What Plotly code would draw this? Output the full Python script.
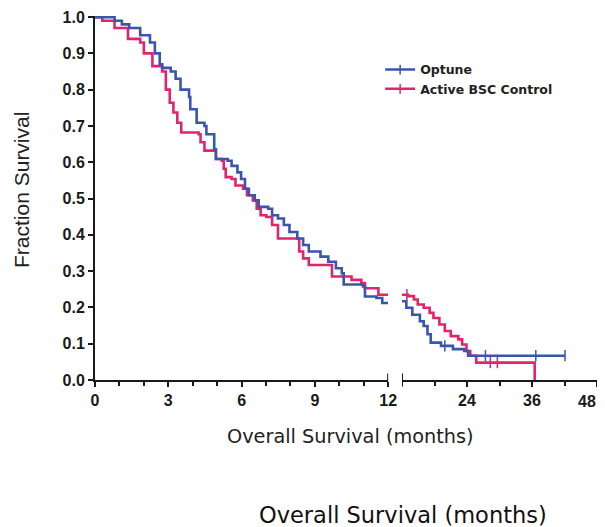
import plotly.graph_objects as go

# ---- data ----
opt_t_a = [0, 0.8, 1.1, 1.4, 1.85, 2.25, 2.45, 2.65, 2.75, 3.1, 3.3, 3.5, 3.85, 3.9, 4.16, 4.48, 4.56, 4.88, 4.95,
           5.43, 5.59, 5.83, 5.98, 6.14, 6.3, 6.54, 6.7, 7.09, 7.25, 7.49, 7.73, 7.96, 8.28, 8.52, 8.75, 9.23, 9.55,
           9.86, 10.1, 10.18, 10.97, 11.05, 11.52, 11.76, 12]
opt_s_a = [1.0, 0.99, 0.98, 0.97, 0.95, 0.93, 0.90, 0.87, 0.86, 0.85, 0.83, 0.80, 0.78, 0.746, 0.709, 0.70, 0.677,
           0.636, 0.609, 0.604, 0.59, 0.572, 0.554, 0.527, 0.509, 0.495, 0.477, 0.472, 0.454, 0.445, 0.427, 0.408,
           0.39, 0.372, 0.354, 0.34, 0.326, 0.308, 0.294, 0.263, 0.258, 0.23, 0.226, 0.212, 0.212]
opt_t_b = [12, 12.8, 13.9, 15.3, 16.0, 16.7, 17.3, 18.5, 19.2, 19.9, 21.4, 23.5, 24.2, 27.4, 36.7, 42.1]
opt_s_b = [0.217, 0.199, 0.18, 0.162, 0.149, 0.126, 0.103, 0.103, 0.094, 0.094, 0.085, 0.08, 0.067, 0.067, 0.067,
           0.067]
opt_cens_t = [19.9, 27.4, 36.7, 42.1]
opt_cens_s = [0.094, 0.067, 0.067, 0.067]

bsc_t_a = [0, 0.3, 0.8, 1.35, 1.85, 2.0, 2.35, 2.75, 2.9, 3.06, 3.21, 3.37, 3.53, 4.24, 4.32, 4.48, 4.95, 5.19, 5.27,
           5.35, 5.59, 5.75, 6.06, 6.22, 6.46, 6.62, 6.78, 7.01, 7.25, 7.49, 8.36, 8.52, 8.75, 9.7, 10.5, 10.9, 11.05,
           11.6, 12]
bsc_s_a = [1.0, 0.99, 0.97, 0.94, 0.93, 0.90, 0.865, 0.85, 0.80, 0.764, 0.737, 0.709, 0.682, 0.677, 0.655, 0.632,
           0.609, 0.604, 0.582, 0.559, 0.554, 0.536, 0.527, 0.509, 0.495, 0.472, 0.454, 0.449, 0.427, 0.39, 0.354,
           0.335, 0.317, 0.285, 0.276, 0.267, 0.253, 0.235, 0.235]
bsc_t_b = [12, 12.9, 13.1, 14.2, 14.9, 16.0, 17.1, 17.8, 18.9, 19.9, 21.0, 22.4, 23.1, 23.9, 24.6, 25.7, 28.3, 29.6,
           36.5, 36.5]
bsc_s_b = [0.235, 0.235, 0.231, 0.222, 0.208, 0.199, 0.185, 0.171, 0.153, 0.135, 0.121, 0.112, 0.098, 0.08, 0.067,
           0.048, 0.048, 0.048, 0.048, 0.0]
bsc_cens_t = [12.9, 28.3, 29.6]
bsc_cens_s = [0.235, 0.048, 0.048]

y_ticks = [0.0, 0.1, 0.2, 0.3, 0.4, 0.5, 0.6, 0.7, 0.8, 0.9, 1.0]
x_ticks_a = [0, 3, 6, 9, 12]
x_ticks_b = [24, 36, 48]
x_labels_b = ["24", "36", ""]   # the last label (48) is drawn as an annotation so it stays inside the window
last_label = "48"

BLUE = "#3B55A9"
RED = "#E2246E"
LW = 2.6
INK = "#1a1a1a"

fig = go.Figure()

def add_curve(t, s, color, name, xaxis):
    fig.add_trace(go.Scatter(x=t, y=s, mode="lines", line=dict(color=color, width=LW, shape="hv"),
                             name=name, showlegend=False, xaxis=xaxis, yaxis="y", hoverinfo="skip"))

def add_cens(t, s, color, xaxis):
    fig.add_trace(go.Scatter(x=t, y=s, mode="markers",
                             marker=dict(symbol="line-ns", size=8, line=dict(color=color, width=1.5)),
                             showlegend=False, xaxis=xaxis, yaxis="y", hoverinfo="skip"))

add_curve(bsc_t_a, bsc_s_a, RED, "Active BSC Control", "x")
add_curve(bsc_t_b, bsc_s_b, RED, "Active BSC Control", "x2")
add_curve(opt_t_a, opt_s_a, BLUE, "Optune", "x")
add_curve(opt_t_b, opt_s_b, BLUE, "Optune", "x2")
add_cens(opt_cens_t, opt_cens_s, BLUE, "x2")
add_cens(bsc_cens_t, bsc_cens_s, RED, "x2")

# legend entries
for nm, col in (("Optune", BLUE), ("Active BSC Control", RED)):
    fig.add_trace(go.Scatter(x=[None], y=[None], mode="lines+markers", name=nm,
                             line=dict(color=col, width=LW),
                             marker=dict(symbol="line-ns", size=7, line=dict(color=col, width=1.5))))

tickfont = dict(family="Liberation Sans, Arial, sans-serif", size=16, color=INK, weight="bold")
axis_common = dict(showline=True, linecolor=INK, linewidth=2, ticks="outside", tickwidth=2,
                   ticklen=5, tickcolor=INK, showgrid=False, zeroline=False,
                   tickfont=tickfont, automargin=False, ticklabeloverflow="allow")

# page has an 8px body margin; figure offset accordingly
fig.update_layout(
    width=605, height=519,
    margin=dict(l=87, r=16, t=8, b=147),
    paper_bgcolor="white", plot_bgcolor="white",
    xaxis=dict(domain=[0, 0.584], range=[0, 12], tickvals=x_ticks_a, anchor="y",
               minor=dict(dtick=1, ticks="outside", ticklen=4, tickwidth=2, tickcolor=INK),
               **axis_common),
    xaxis2=dict(domain=[0.6116, 1], range=[12, 48], tickvals=x_ticks_b, ticktext=x_labels_b, anchor="y",
                minor=dict(tickvals=[18, 30, 42], ticks="outside", ticklen=4, tickwidth=2, tickcolor=INK),
                **axis_common),
    yaxis=dict(range=[0, 1.003], tickvals=y_ticks, tickformat=".1f", **axis_common),
    legend=dict(x=0.568, y=0.893, xanchor="left", yanchor="top", bgcolor="rgba(0,0,0,0)",
                font=dict(family="DejaVu Sans", size=12.5, color="#222", weight="bold"),
                itemwidth=30, tracegroupgap=0),
    showlegend=True,
)

# axis break marks
for xr in ("x", "x2"):
    fig.add_shape(type="line", xref=xr, yref="paper", x0=12, x1=12, y0=-0.018, y1=0.018,
                  line=dict(color=INK, width=2))

fig.add_annotation(text=last_label, xref="x2", yref="paper", x=x_ticks_b[-1], y=0, xanchor="right",
                   yanchor="top", yshift=-11, xshift=1, showarrow=False, font=tickfont)
fig.add_annotation(text="Fraction Survival", xref="paper", yref="paper", x=-0.1454, y=0.522,
                   textangle=-90, showarrow=False, xanchor="center", yanchor="middle",
                   font=dict(family="Liberation Sans, Arial", size=21, color="#222"))
fig.add_annotation(text="Overall Survival (months)", xref="paper", yref="paper", x=0.508, y=-0.154,
                   showarrow=False, xanchor="center", yanchor="middle",
                   font=dict(family="DejaVu Sans", size=19.3, color="#222"))
fig.add_annotation(text="Overall Survival (months)", xref="paper", yref="paper", x=0.614, y=-0.371,
                   showarrow=False, xanchor="center", yanchor="middle",
                   font=dict(family="DejaVu Sans", size=22.5, color="#111"))

fig.write_html("out.html")
